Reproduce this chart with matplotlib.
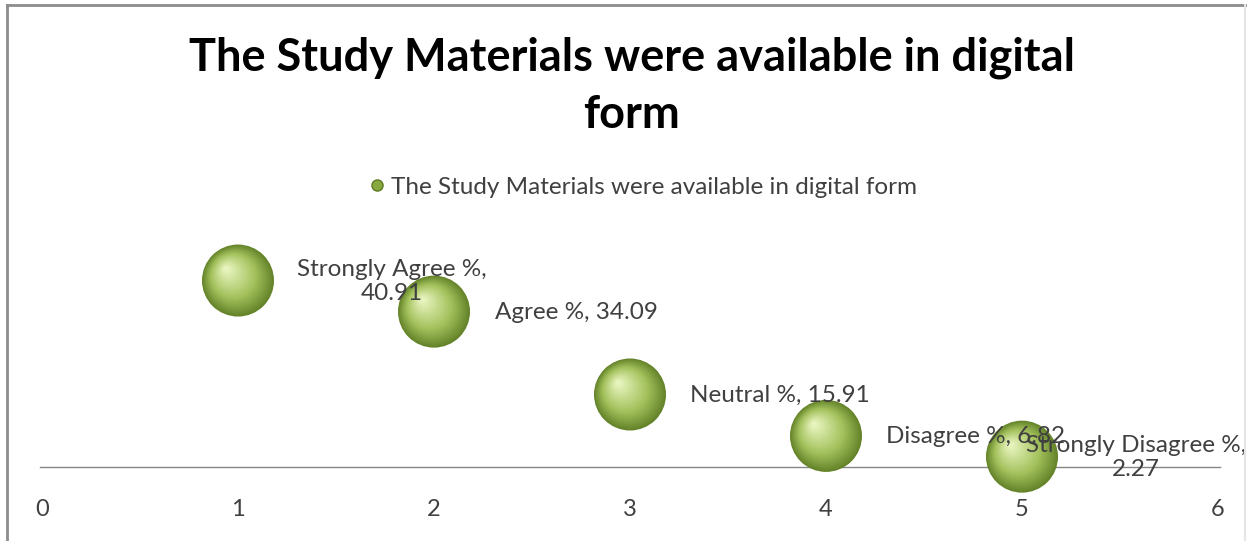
import matplotlib
matplotlib.use("Agg")
import matplotlib.pyplot as plt
import numpy as np
from matplotlib.transforms import ScaledTranslation
from matplotlib.colors import to_rgb
from matplotlib.lines import Line2D

categories = ["Strongly Agree %", "Agree %", "Neutral %", "Disagree %", "Strongly Disagree %"]
x_values = [1, 2, 3, 4, 5]
y_values = [40.91, 34.09, 15.91, 6.82, 2.27]
x_ticks = [0, 1, 2, 3, 4, 5, 6]
series_name = "The Study Materials were available in digital form"
title = "The Study Materials were available in digital\nform"

FONT = "Lato"
W, H = 1251, 541
fig = plt.figure(figsize=(W / 100, H / 100), dpi=100)
fig.patch.set_facecolor("white")

# frame of the chart area
fig.add_artist(Line2D([7 / W, 7 / W], [0, 1 - 5 / H], transform=fig.transFigure,
                      color="#8c8c8c", linewidth=2.0))
fig.add_artist(Line2D([7 / W, 1245 / W], [1 - 5 / H, 1 - 5 / H], transform=fig.transFigure,
                      color="#8c8c8c", linewidth=2.0))
fig.add_artist(Line2D([1245 / W, 1245 / W], [0, 1 - 5 / H], transform=fig.transFigure,
                      color="#e6e6e6", linewidth=1.5))

ax_left, ax_right = 42 / W, 1218 / W
ax_bottom = (H - 467) / H
ax_top = (H - 230) / H
ax = fig.add_axes([ax_left, ax_bottom, ax_right - ax_left, ax_top - ax_bottom])
ax.set_xlim(0, 6)
ax.set_ylim(0, 52)
for s in ["top", "right", "left"]:
    ax.spines[s].set_visible(False)
ax.spines["bottom"].set_color("#868686")
ax.spines["bottom"].set_linewidth(1.0)
ax.spines["bottom"].set_bounds(-0.01, 6.01)
ax.set_yticks([])
ax.set_xticks(x_ticks)
ax.set_xticklabels([str(t) for t in x_ticks], fontsize=17, family=FONT, color="#404040")
ax.tick_params(axis="x", length=0, pad=23)
ax.patch.set_alpha(0)

# bubbles with a sphere-like shading
dark = np.array(to_rgb("#65842a"))
mid = np.array(to_rgb("#a3c15c"))
light = np.array(to_rgb("#e6f3bc"))
diam_pt = 72 * 0.72
n = 30
for i in range(n):
    t = i / (n - 1)
    d = diam_pt * (1 - 0.92 * t)
    if t < 0.4:
        c = dark + (mid - dark) * (t / 0.4)
    else:
        c = mid + (light - mid) * ((t - 0.4) / 0.6)
    off = ScaledTranslation(-0.16 * diam_pt * t / 72, 0.16 * diam_pt * t / 72, fig.dpi_scale_trans)
    ax.scatter(x_values, y_values, s=d ** 2, color=c, edgecolors="none",
               transform=ax.transData + off, clip_on=False, zorder=3 + i * 0.01)

# data labels
label_dx = [59, 61, 60, 60, 4]
for xv, yv, cat, dx in zip(x_values, y_values, categories, label_dx):
    if cat.startswith("Strongly"):
        txt = f"{cat},\n{yv:.2f}"
    else:
        txt = f"{cat}, {yv:.2f}"
    off = ScaledTranslation(dx / 100, -1 / 100, fig.dpi_scale_trans)
    ax.text(xv, yv, txt, transform=ax.transData + off, ha="left", va="center",
            multialignment="center", fontsize=17.5, family=FONT, color="#404040",
            linespacing=1.15, zorder=10, clip_on=False)

# legend
handle = Line2D([], [], marker="o", linestyle="none", markersize=8,
                markerfacecolor="#86a83e", markeredgecolor="#5f7a22")
fig.legend([handle], [series_name], loc="center", bbox_to_anchor=(641 / W, 1 - 187 / H),
           frameon=False, prop={"family": FONT, "size": 17.5}, handletextpad=0.05,
           handlelength=1.0, labelcolor="#404040")

fig.text(632 / W, 1 - 86 / H, title, ha="center", va="center", fontsize=32.5,
         fontweight="bold", family=FONT, color="black", linespacing=1.45)

fig.savefig("out.png", dpi=100)
